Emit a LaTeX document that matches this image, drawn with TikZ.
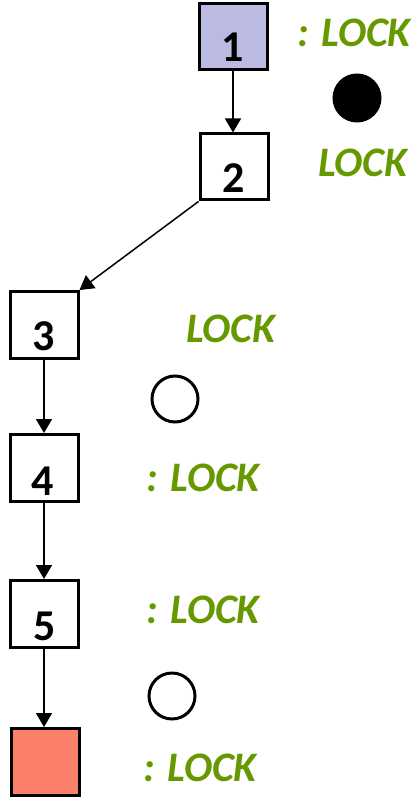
\documentclass[tikz,border=0pt]{standalone}
\usepackage{fontspec}
\setmainfont{Carlito}
\usetikzlibrary{arrows.meta}
\definecolor{lockgreen}{RGB}{102,153,0}
\definecolor{lav}{RGB}{187,187,225}
\definecolor{salmon}{RGB}{250,128,106}
\tikzset{
  stbox/.style={draw=black,line width=3pt,rectangle,minimum width=#1,minimum height=66pt,inner sep=0pt},
  stbox/.default=68pt,
  dig/.style={anchor=base,inner sep=0pt,font=\fontsize{44}{44}\selectfont\bfseries},
  lock/.style={anchor=base west,inner sep=0pt,text=lockgreen,font=\fontsize{42}{42}\selectfont\bfseries\itshape},
  flow/.style={line width=1.5pt,-{Triangle[width=16pt,length=14pt]}},
  tok/.style={circle,line width=3pt,draw=black,minimum size=46pt,inner sep=0pt}
}
\begin{document}
\begin{tikzpicture}[x=1pt,y=-1pt]
\useasboundingbox (0,0) rectangle (416,799);
\node[stbox,fill=lav] (b1) at (233,37) {};
\node[stbox] (b2) at (234,167) {};
\node[stbox,minimum height=67pt] (b3) at (44,325) {};
\node[stbox,minimum height=67pt] (b4) at (44,468) {};
\node[stbox,minimum height=67pt] (b5) at (44,614) {};
\node[stbox,fill=salmon,minimum height=67pt] (b6) at (45,762) {};
\node[dig] (d1) at (233,62) {1};
\node[dig] (d2) at (234,193) {2};
\node[dig] (d3) at (44,350) {3};
\node[dig] (d4) at (43,495) {4};
\node[dig] (d5) at (45,640) {5};
\draw[flow] (b1.south) -- (b1.south |- b2.north);
\draw[flow] (b2.south west) -- (b3.north east);
\draw[flow] (b3.south) -- (b3.south |- b4.north);
\draw[flow] (b4.south) -- (b4.south |- b5.north);
\draw[flow] (b5.south) -- (b5.south |- b6.north);
\node[tok,fill=black] (t1) at (357,98) {};
\node[tok] (t2) at (175,399) {};
\node[tok] (t3) at (172,696) {};
\node[lock] (l1) at (297,47) {: LOCK};
\node[lock] (l2) at (318,177) {LOCK};
\node[lock] (l3) at (186,342) {LOCK};
\node[lock] (l4) at (146,491) {: LOCK};
\node[lock] (l5) at (146,623) {: LOCK};
\node[lock] (l6) at (143,781) {: LOCK};
\end{tikzpicture}
\end{document}
